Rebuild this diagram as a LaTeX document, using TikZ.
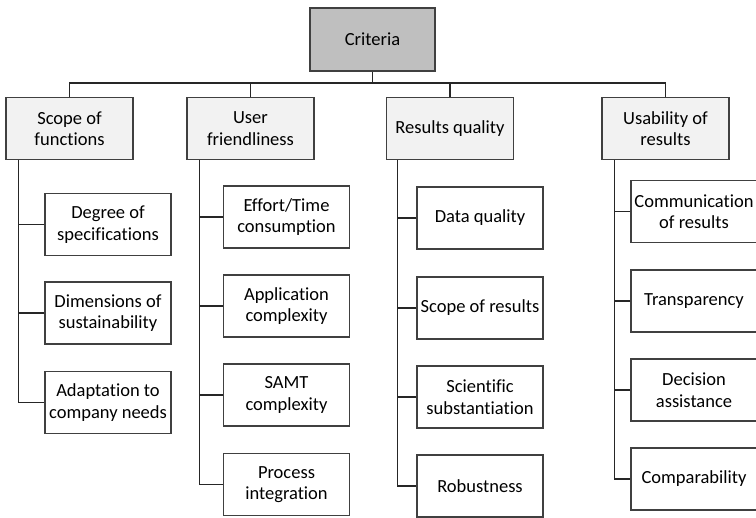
\documentclass[tikz,border=0pt]{standalone}
\usepackage{fontspec}
\setmainfont{Carlito}[Ligatures=CommonOff]
\usepackage{tikz}
\usetikzlibrary{calc}

\definecolor{rootgray}{RGB}{191,191,191}
\definecolor{catgray}{RGB}{242,242,242}
\definecolor{edgegray}{RGB}{64,64,64}

\tikzset{
  crit/.style={draw=edgegray,line width=1.2pt,align=center,inner sep=0pt,
    minimum width=126pt,minimum height=62pt,
    font=\fontsize{18.5}{21.5}\selectfont},
  rootbox/.style={crit,fill=rootgray,minimum width=125pt,minimum height=63pt},
  catbox/.style={crit,fill=catgray,minimum width=127pt},
  subbox/.style={crit,fill=white},
  link/.style={line width=1.1pt,black!85}
}

\begin{document}
\begin{tikzpicture}[x=1pt,y=-1pt]
  \useasboundingbox (0,0) rectangle (756,518);
  % top level
  \node[rootbox] (root) at (372.5,39.5) {Criteria};
  \coordinate (bus) at (372.5,83);
  \node[catbox] (scope) at (69.5,128.5) {Scope of\\functions};
  \node[catbox] (user) at (250.5,128.5) {User\\friendliness};
  \node[catbox] (resq) at (450,128.5) {Results quality};
  \node[catbox] (usab) at (665.5,128.5) {Usability of\\results};
  % scope of functions
  \node[subbox] (scope1) at (108,224.5) {Degree of\\specifications};
  \node[subbox] (scope2) at (108,313) {Dimensions of\\sustainability};
  \node[subbox] (scope3) at (108,402.5) {Adaptation to\\company needs};
  % user friendliness
  \node[subbox] (user1) at (286.5,217) {Effort/Time\\consumption};
  \node[subbox] (user2) at (286.5,306) {Application\\complexity};
  \node[subbox] (user3) at (286.5,395) {SAMT\\complexity};
  \node[subbox] (user4) at (286.5,484.5) {Process\\integration};
  % results quality
  \node[subbox] (resq1) at (480,218) {Data quality};
  \node[subbox] (resq2) at (480,308) {Scope of results};
  \node[subbox] (resq3) at (480,397) {Scientific\\substantiation};
  \node[subbox] (resq4) at (480,486) {Robustness};
  % usability of results
  \node[subbox] (usab1) at (694,211.5) {Communication\\of results};
  \node[subbox] (usab2) at (694,301) {Transparency};
  \node[subbox] (usab3) at (694,390) {Decision\\assistance};
  \node[subbox] (usab4) at (694,479) {Comparability};

  % connectors
  \draw[link] (root.south) -- (bus);
  \draw[link] (scope.north) |- (bus) -| (usab.north);
  \draw[link] (user.north) -- (user.north |- bus);
  \draw[link] (resq.north) -- (resq.north |- bus);

  \coordinate (scopeT) at ($(scope.south west)+(13,0)$);
  \coordinate (userT) at ($(user.south west)+(13,0)$);
  \coordinate (resqT) at ($(resq.south west)+(12,0)$);
  \coordinate (usabT) at ($(usab.south west)+(13,0)$);

  \draw[link] (scopeT) |- (scope3.west);
  \foreach \i in {1,2}
    \draw[link] (scope\i.west) -- (scope\i.west -| scopeT);
  \foreach \c in {user,resq,usab} {
    \draw[link] (\c T) |- (\c4.west);
    \foreach \i in {1,2,3}
      \draw[link] (\c\i.west) -- (\c\i.west -| \c T);
  }
\end{tikzpicture}
\end{document}
